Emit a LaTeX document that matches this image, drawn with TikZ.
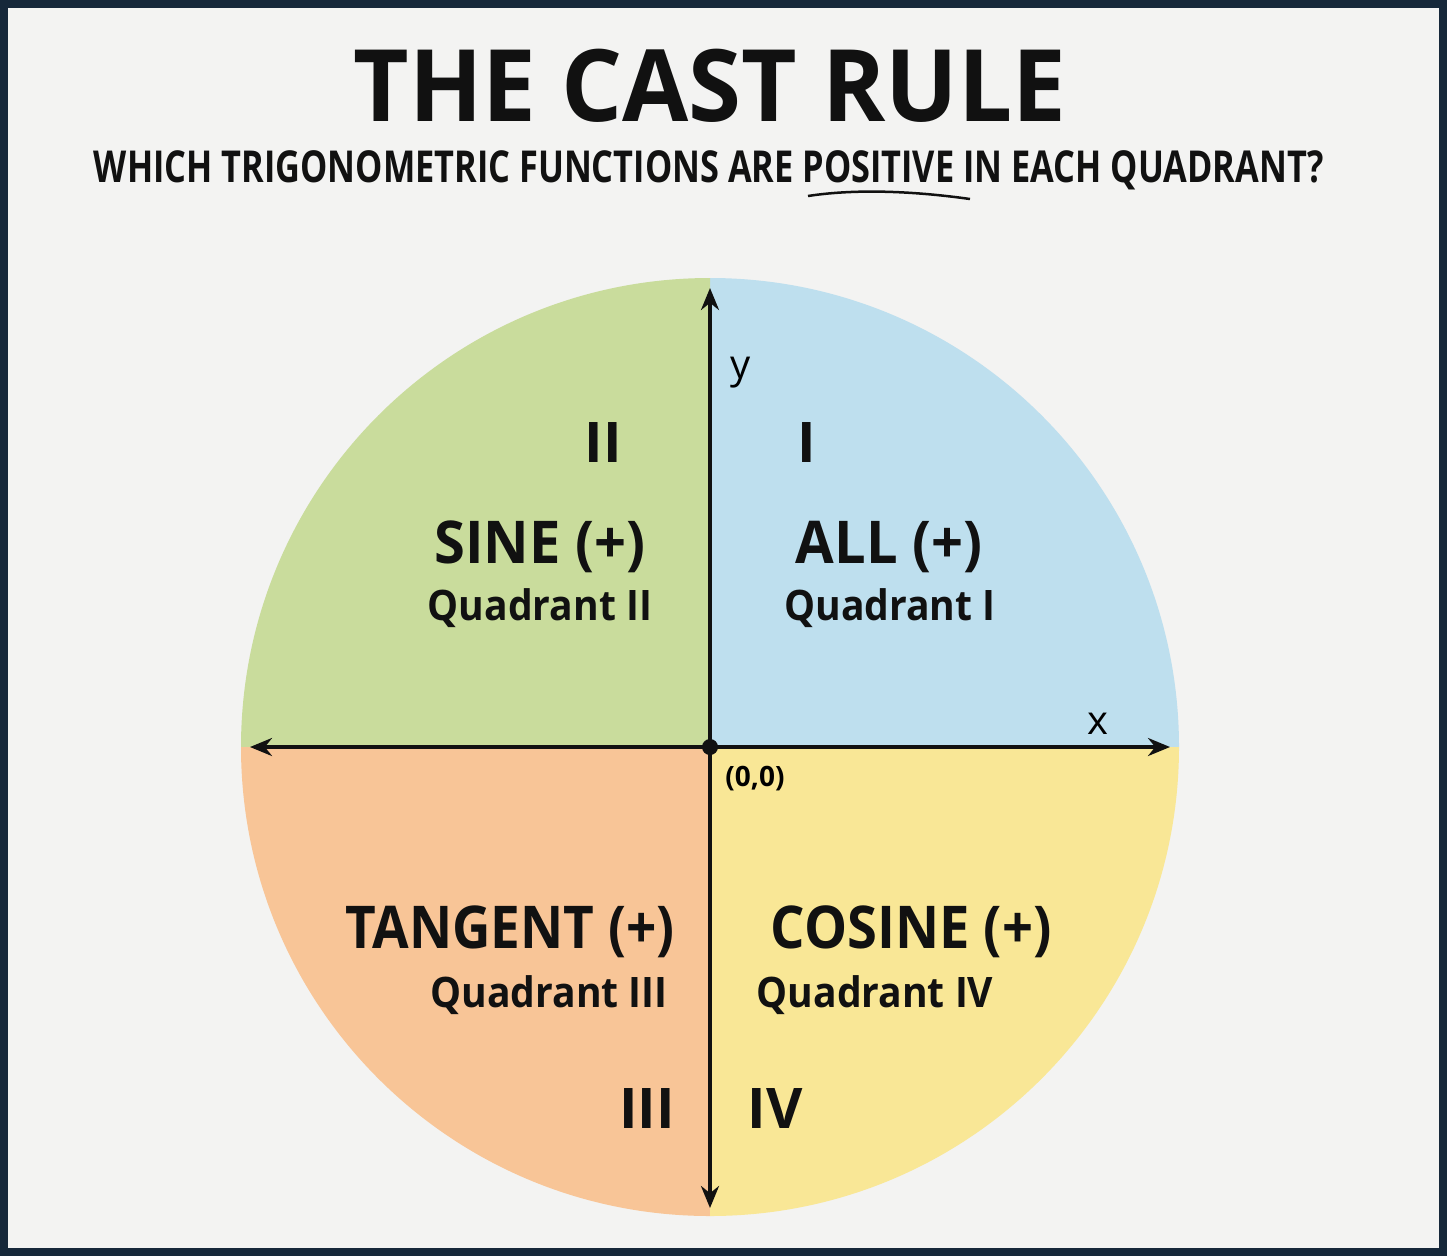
\documentclass[tikz,border=0pt]{standalone}
\usepackage{fontspec}
\setmainfont{Open Sans}
\usetikzlibrary{arrows.meta}
\definecolor{frame}{HTML}{16283A}
\definecolor{bg}{HTML}{F3F3F2}
\definecolor{qone}{HTML}{BEDFEE}
\definecolor{qtwo}{HTML}{C9DC9C}
\definecolor{qthree}{HTML}{F8C597}
\definecolor{qfour}{HTML}{F9E796}
\definecolor{ink}{HTML}{111111}
\begin{document}
\begin{tikzpicture}[x=1pt,y=-1pt,
  big/.style={font=\fontsize{59}{59}\selectfont\bfseries, text=ink, inner sep=0},
  roman/.style={font=\fontsize{56}{56}\selectfont\bfseries, text=ink, inner sep=0},
  sub/.style={font=\fontsize{42}{42}\selectfont\bfseries, text=ink, inner sep=0},
  axis/.style={line width=3.5pt, ink, {Stealth[length=22pt,width=18pt]}-{Stealth[length=22pt,width=18pt]}}]
\fill[frame] (0,0) rectangle (1447,1256);
\fill[bg] (8,8) rectangle (1439,1248);
\useasboundingbox (0,0) rectangle (1447,1256);
\coordinate (O) at (710,747);
\fill[qone] (O) -- (1179,747) arc[start angle=0,end angle=-90,radius=469] -- cycle;
\fill[qtwo] (O) -- (710,278) arc[start angle=-90,end angle=-180,radius=469] -- cycle;
\fill[qthree] (O) -- (241,747) arc[start angle=180,end angle=90,radius=469] -- cycle;
\fill[qfour] (O) -- (710,1216) arc[start angle=90,end angle=0,radius=469] -- cycle;
\node[font=\fontsize{100}{100}\selectfont\bfseries, inner sep=0, text=ink] (title) at (710,86) {\scalebox{0.96}[1]{THE CAST RULE}};
\node[font=\fontsize{44}{44}\selectfont\bfseries, inner sep=0, text=ink] (subtitle) at (709,170) {\scalebox{0.78}[1]{WHICH TRIGONOMETRIC FUNCTIONS ARE POSITIVE IN EACH QUADRANT?}};
\coordinate (u1) at (808,196);
\coordinate (u2) at (970,199);
\draw[line width=2.5pt, ink] (u1) .. controls (860,188) and (920,192) .. (u2);
\coordinate (xl) at (250,747); \coordinate (xr) at (1170,747);
\coordinate (yt) at (710,288); \coordinate (yb) at (710,1208);
\draw[axis] (xl) -- (xr);
\draw[axis] (yb) -- (yt);
\fill[ink] (O) circle (8);
\node[font=\fontsize{40}{40}\selectfont, inner sep=0] (ylab) at (741,373) {y};
\node[font=\fontsize{40}{40}\selectfont, inner sep=0] (xlab) at (1098,724) {x};
\node[font=\fontsize{28}{28}\selectfont\bfseries, inner sep=0] (orig) at (755,779) {(0,0)};
\node[roman] (r2) at (603,443) {II};
\node[roman] (r1) at (807,443) {I};
\node[roman] (r3) at (647,1108) {III};
\node[roman] (r4) at (775,1108) {IV};
\node[big] (sine) at (540,547) {\scalebox{0.95}[1]{SINE (+)}};
\node[sub] (q2) at (540,608) {\scalebox{0.93}[1]{Quadrant II}};
\node[big] (all) at (889,547) {\scalebox{0.95}[1]{ALL (+)}};
\node[sub] (q1) at (890,608) {\scalebox{0.93}[1]{Quadrant I}};
\node[big] (tan) at (510,932) {\scalebox{0.9}[1]{TANGENT (+)}};
\node[sub] (q3) at (549,995) {\scalebox{0.93}[1]{Quadrant III}};
\node[big] (cos) at (911,932) {\scalebox{0.92}[1]{COSINE (+)}};
\node[sub] (q4) at (875,995) {\scalebox{0.93}[1]{Quadrant IV}};
\end{tikzpicture}
\end{document}
